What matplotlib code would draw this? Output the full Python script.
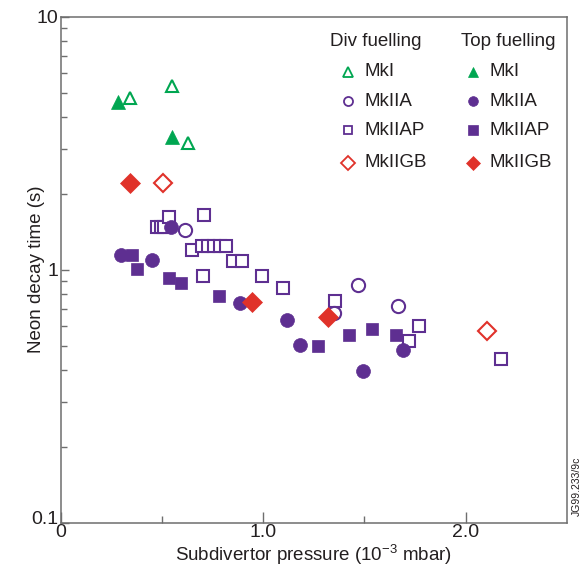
import matplotlib
matplotlib.use("Agg")
import matplotlib.pyplot as plt
from matplotlib.ticker import FixedLocator, NullFormatter, FixedFormatter
from matplotlib.transforms import ScaledTranslation

plt.rcParams['font.family'] = ['Liberation Sans', 'DejaVu Sans']
plt.rcParams['mathtext.fontset'] = 'custom'
plt.rcParams['mathtext.rm'] = 'Liberation Sans'

# ---- data ----
div_mki_x = [0.342, 0.550, 0.630]
div_mki_y = [4.77, 5.32, 3.16]
top_mki_x = [0.283, 0.548]
top_mki_y = [4.60, 3.34]

div_mkiia_x = [0.614, 1.470, 1.350, 1.668]
div_mkiia_y = [1.44, 0.87, 0.673, 0.72]
top_mkiia_x = [0.296, 0.450, 0.545, 0.886, 1.117, 1.182, 1.690, 1.495]
top_mkiia_y = [1.14, 1.09, 1.48, 0.74, 0.63, 0.504, 0.481, 0.399]

div_mkiiap_x = [0.477, 0.494, 0.510, 0.535, 0.709, 0.647,
                0.697, 0.726, 0.756, 0.787, 0.818,
                0.853, 0.894, 0.702, 0.996, 1.100, 1.355, 1.770, 1.721, 2.174]
div_mkiiap_y = [1.48, 1.48, 1.48, 1.61, 1.64, 1.20,
                1.24, 1.24, 1.24, 1.24, 1.24,
                1.085, 1.085, 0.947, 0.947, 0.844, 0.752, 0.599, 0.523, 0.443]
top_mkiiap_x = [0.354, 0.375, 0.537, 0.594, 0.784, 1.270, 1.426, 1.537, 1.657]
top_mkiiap_y = [1.14, 1.01, 0.925, 0.889, 0.787, 0.501, 0.552, 0.583, 0.552]

div_mkiigb_x = [0.504, 2.105]
div_mkiigb_y = [2.20, 0.573]
top_mkiigb_x = [0.342, 0.947, 1.322]
top_mkiigb_y = [2.20, 0.747, 0.648]

legend_labels = ['MkI', 'MkIIA', 'MkIIAP', 'MkIIGB']
x_ticks = [0, 1.0, 2.0]
x_tick_labels = ['0', '1.0', '2.0']
y_ticks = [0.1, 1, 10]
y_tick_labels = ['0.1', '1', '10']

GREEN = '#00a651'
PURPLE = '#5e2f91'
RED = '#e0322a'
SPINE = '#6e6e6e'
TXT = '#231f20'

fig = plt.figure(figsize=(5.87, 5.73), dpi=100)
ax = fig.add_axes([60.7/587, 1 - 522.7/573, 506/587, 506/573])

def op(x, y, m, c, ms, **kw):
    ax.plot(x, y, linestyle='none', marker=m, markersize=ms,
            markerfacecolor='white', markeredgecolor=c, markeredgewidth=1.5, **kw)

def fl(x, y, m, c, ms, **kw):
    ax.plot(x, y, linestyle='none', marker=m, markersize=ms,
            markerfacecolor=c, markeredgecolor=c, markeredgewidth=0.5, **kw)

# draw order: open squares first, then others
op(div_mkiiap_x, div_mkiiap_y, 's', PURPLE, 8.3)
op(div_mkiia_x, div_mkiia_y, 'o', PURPLE, 9.5)
fl(top_mkiiap_x, top_mkiiap_y, 's', PURPLE, 8.8)
fl(top_mkiia_x, top_mkiia_y, 'o', PURPLE, 10)
op(div_mki_x, div_mki_y, '^', GREEN, 8.8)
fl(top_mki_x, top_mki_y, '^', GREEN, 9.5)
op(div_mkiigb_x, div_mkiigb_y, 'D', RED, 9.3)
fl(top_mkiigb_x, top_mkiigb_y, 'D', RED, 10)

ax.set_xscale('linear')
ax.set_yscale('log')
ax.set_xlim(0, 2.5)
ax.set_ylim(0.1, 10)

ax.xaxis.set_major_locator(FixedLocator(x_ticks))
ax.xaxis.set_major_formatter(FixedFormatter(x_tick_labels))
ax.xaxis.set_minor_locator(FixedLocator([0.5, 1.5]))
ax.yaxis.set_major_locator(FixedLocator(y_ticks))
ax.yaxis.set_major_formatter(FixedFormatter(y_tick_labels))
minors = [k * 10**e for e in (-1, 0) for k in range(2, 10)]
ax.yaxis.set_minor_locator(FixedLocator(minors))
ax.yaxis.set_minor_formatter(NullFormatter())

ax.tick_params(axis='both', which='both', direction='in', color=SPINE, width=1.0,
               labelsize=14, labelcolor=TXT, top=False, right=False)
ax.tick_params(axis='x', which='major', length=8, pad=1)
ax.tick_params(axis='x', which='minor', length=5)
ax.tick_params(axis='y', which='major', length=6, pad=2)
ax.tick_params(axis='y', which='minor', length=4)
for s in ax.spines.values():
    s.set_color(SPINE)
    s.set_linewidth(1.1)

ax.set_xlabel(r'Subdivertor pressure (10$^{\mathrm{-3}}$ mbar)', fontsize=13.5,
              color=TXT, labelpad=1)
ax.set_ylabel('Neon decay time (s)', fontsize=13.5, color=TXT)
ax.yaxis.set_label_coords(-0.032, 0.5)

# lift the lowest y tick label slightly, as in the reference
fig.canvas.draw()
for lbl in ax.get_yticklabels():
    if lbl.get_text() == '0.1':
        lbl.set_transform(lbl.get_transform() + ScaledTranslation(0, 5/100, fig.dpi_scale_trans))

# ---- legend (manual) ----
T = ax.transAxes
ax.text(0.622, 0.951, 'Div fuelling', transform=T, ha='center', va='center',
        fontsize=13.5, color=TXT)
ax.text(0.885, 0.951, 'Top fuelling', transform=T, ha='center', va='center',
        fontsize=13.5, color=TXT)
rows_y = [0.891, 0.833, 0.776, 0.711]
mk = ['^', 'o', 's', 'D']
cols = [GREEN, PURPLE, PURPLE, RED]
sizes = [6.5, 6.5, 6.0, 7.0]
for lab, yy, m, c, s in zip(legend_labels, rows_y, mk, cols, sizes):
    ax.plot([0.568], [yy], transform=T, marker=m, markersize=s, linestyle='none',
            markerfacecolor='white', markeredgecolor=c, markeredgewidth=1.3, clip_on=False)
    ax.text(0.601, yy, lab, transform=T, ha='left', va='center', fontsize=13.5, color=TXT)
    ax.plot([0.815], [yy], transform=T, marker=m, markersize=s + 0.5, linestyle='none',
            markerfacecolor=c, markeredgecolor=c, markeredgewidth=0.5, clip_on=False)
    ax.text(0.847, yy, lab, transform=T, ha='left', va='center', fontsize=13.5, color=TXT)

fig.text(577/587, 1 - 486/573, 'JG99.233/9c', rotation=90, ha='center', va='center',
         fontsize=7.5, color=TXT)

fig.savefig('out.png', dpi=100)
